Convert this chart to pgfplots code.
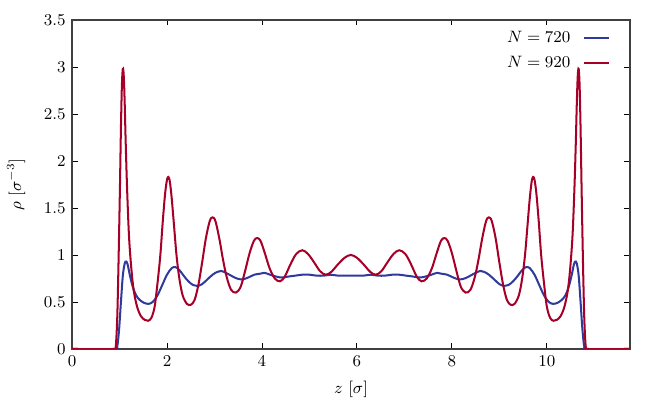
\documentclass[border=0pt]{standalone}
\usepackage{pgfplots}
\pgfplotsset{compat=1.18}
\definecolor{cblue}{RGB}{46,59,155}
\definecolor{cred}{RGB}{166,0,40}
\begin{document}
\begin{tikzpicture}
\useasboundingbox (-39.3pt,-27.8pt) rectangle (320.8pt,190.4pt);
\begin{axis}[
  scale only axis, width=304.4pt, height=179.5pt,
  xmin=0, xmax=11.75, ymin=0, ymax=3.5,
  xtick={0,2,4,6,8,10}, ytick={0,0.5,1,1.5,2,2.5,3,3.5},
  tick align=inside, major tick length=3pt,
  tick style={black, line width=0.5pt},
  axis line style={black!75, line width=0.8pt},
  tick label style={font=\small},
  xlabel={$z$ [$\sigma$]}, ylabel={$\rho$ [$\sigma^{-3}$]},
  label style={font=\small},
  xlabel style={at={(axis description cs:0.5,0)}, anchor=north, yshift=-14pt},
  ylabel style={at={(axis description cs:0,0.5)}, anchor=south, yshift=22pt},
  legend style={draw=none, fill=none, at={(0.975,0.99)}, anchor=north east, font=\small, row sep=2pt, column sep=5pt},
  legend cell align=right, legend plot pos=right,
  legend image code/.code={\draw[#1, line width=1.1pt] (0pt,0pt) -- (13.6pt,0pt);},
]
\addplot[cblue, line width=1.1pt, smooth, tension=0.55] coordinates {
(0,0) (0.90,0) (0.95,0.02) (0.99,0.2) (1.03,0.5) (1.07,0.78) (1.11,0.91) (1.14,0.93) (1.17,0.90) (1.22,0.78) (1.28,0.66) (1.35,0.57) (1.43,0.52) (1.52,0.49) (1.61,0.48) (1.70,0.50) (1.80,0.57) (1.90,0.68) (2.00,0.79) (2.10,0.86) (2.18,0.87) (2.26,0.84) (2.35,0.78) (2.45,0.72) (2.55,0.68) (2.64,0.67) (2.74,0.69) (2.85,0.74) (2.96,0.79) (3.06,0.82) (3.14,0.83) (3.24,0.81) (3.35,0.78) (3.47,0.75) (3.59,0.74) (3.71,0.76) (3.84,0.79) (3.95,0.80) (4.05,0.81) (4.17,0.79) (4.30,0.77) (4.42,0.76) (4.55,0.77) (4.70,0.78) (4.85,0.79) (5.00,0.79) (5.15,0.78) (5.30,0.78) (5.45,0.79) (5.60,0.78) (5.75,0.78) (5.87,0.78)
(6.00,0.78) (6.14,0.78) (6.29,0.79) (6.44,0.78) (6.59,0.78) (6.74,0.79) (6.89,0.79) (7.04,0.78) (7.19,0.77) (7.32,0.76) (7.44,0.77) (7.57,0.79) (7.69,0.81) (7.79,0.80) (7.90,0.79) (8.03,0.76) (8.15,0.74) (8.27,0.75) (8.39,0.78) (8.50,0.81) (8.60,0.83) (8.68,0.82) (8.78,0.79) (8.89,0.74) (9.00,0.69) (9.10,0.67) (9.19,0.68) (9.29,0.72) (9.39,0.78) (9.48,0.84) (9.56,0.87) (9.64,0.86) (9.74,0.79) (9.84,0.68) (9.94,0.57) (10.04,0.50) (10.13,0.48) (10.22,0.49) (10.31,0.52) (10.39,0.57) (10.46,0.66) (10.52,0.78) (10.57,0.90) (10.60,0.93) (10.63,0.91) (10.67,0.78) (10.71,0.5) (10.75,0.2) (10.79,0.02) (10.84,0) (11.75,0)
};
\addlegendentry{$N=720$}
\addplot[cred, line width=1.1pt, smooth, tension=0.55] coordinates {
(0,0) (0.88,0) (0.92,0.02) (0.95,0.3) (0.97,0.7) (0.99,1.2) (1.01,1.75) (1.03,2.35) (1.05,2.8) (1.07,2.98) (1.09,2.9) (1.11,2.6) (1.13,2.2) (1.16,1.7) (1.20,1.2) (1.25,0.85) (1.30,0.62) (1.37,0.45) (1.45,0.35) (1.53,0.31) (1.60,0.30) (1.67,0.33) (1.74,0.45) (1.80,0.70) (1.86,1.0) (1.91,1.35) (1.96,1.65) (2.00,1.80) (2.03,1.83) (2.06,1.78) (2.10,1.6) (2.15,1.3) (2.20,1.0) (2.26,0.75) (2.33,0.57) (2.42,0.48) (2.50,0.47) (2.58,0.52) (2.66,0.68) (2.74,0.92) (2.82,1.18) (2.90,1.36) (2.96,1.40) (3.02,1.36) (3.10,1.18) (3.18,0.95) (3.26,0.76) (3.35,0.63) (3.45,0.60) (3.55,0.66) (3.64,0.82) (3.74,1.02) (3.83,1.15) (3.90,1.18) (3.97,1.15) (4.06,1.02) (4.16,0.86) (4.27,0.75) (4.38,0.72) (4.48,0.77) (4.60,0.90) (4.72,1.01) (4.85,1.05) (4.97,1.01) (5.10,0.92) (5.22,0.83) (5.34,0.79) (5.46,0.82) (5.60,0.90) (5.74,0.97) (5.87,1.00)
(6.00,0.97) (6.14,0.90) (6.28,0.82) (6.40,0.79) (6.52,0.83) (6.64,0.92) (6.77,1.01) (6.89,1.05) (7.02,1.01) (7.14,0.90) (7.26,0.77) (7.36,0.72) (7.47,0.75) (7.58,0.86) (7.68,1.02) (7.77,1.15) (7.84,1.18) (7.91,1.15) (8.00,1.02) (8.10,0.82) (8.19,0.66) (8.29,0.60) (8.39,0.63) (8.48,0.76) (8.56,0.95) (8.64,1.18) (8.72,1.36) (8.78,1.40) (8.84,1.36) (8.92,1.18) (9.00,0.92) (9.08,0.68) (9.16,0.52) (9.24,0.47) (9.32,0.48) (9.41,0.57) (9.48,0.75) (9.54,1.0) (9.59,1.3) (9.64,1.6) (9.68,1.78) (9.71,1.83) (9.74,1.80) (9.78,1.65) (9.83,1.35) (9.88,1.0) (9.94,0.70) (10.00,0.45) (10.07,0.33) (10.14,0.30) (10.21,0.31) (10.29,0.35) (10.37,0.45) (10.44,0.62) (10.49,0.85) (10.54,1.2) (10.58,1.7) (10.61,2.2) (10.63,2.6) (10.65,2.9) (10.67,2.98) (10.69,2.8) (10.71,2.35) (10.73,1.75) (10.75,1.2) (10.77,0.7) (10.79,0.3) (10.82,0.02) (10.86,0) (11.75,0)
};
\addlegendentry{$N=920$}
\end{axis}
\end{tikzpicture}
\end{document}
